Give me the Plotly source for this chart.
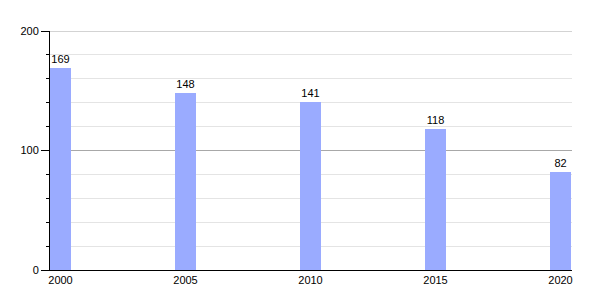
import plotly.graph_objects as go

years = [2000, 2005, 2010, 2015, 2020]
values = [169, 148, 141, 118, 82]
y_max = 200
bar_w = 0.84
tick_pos = [y + bar_w / 2 for y in years]
tick_text = [str(y) for y in years]

fig = go.Figure(go.Bar(
    x=years, y=values, width=bar_w, offset=0,
    marker=dict(color="#9aabff", line=dict(width=0)),
    text=[str(v) for v in values], textposition="outside",
    textfont=dict(family="Liberation Sans, Arial", size=11, color="#000"),
    cliponaxis=False,
))

fig.add_shape(type="line", xref="paper", yref="y", x0=0, x1=1, y0=y_max, y1=y_max,
              line=dict(color="#a8a8a8", width=1), layer="below")

fig.update_layout(
    width=600, height=300,
    margin=dict(l=50, r=28, t=31, b=30),
    paper_bgcolor="white", plot_bgcolor="white",
    showlegend=False,
    font=dict(family="Liberation Sans, Arial", size=11, color="#000"),
    xaxis=dict(range=[2000, 2020.88], tickvals=tick_pos, ticktext=tick_text,
               showgrid=False, zeroline=False, showline=True, linecolor="#000",
               linewidth=1, ticks="", ticklen=0, tickfont=dict(size=11)),
    yaxis=dict(range=[0, y_max], tickvals=[0, 100, 200], showgrid=True,
               gridcolor="#a8a8a8", gridwidth=1, zeroline=False,
               showline=True, linecolor="#000", linewidth=1,
               ticks="outside", ticklen=8, tickcolor="#000", tickwidth=1,
               tickfont=dict(size=11),
               minor=dict(dtick=20, tick0=0, showgrid=True, gridcolor="#e4e4e4",
                          ticks="outside", ticklen=3, tickcolor="#000")),
    bargap=0,
)

fig.write_html("out.html")
